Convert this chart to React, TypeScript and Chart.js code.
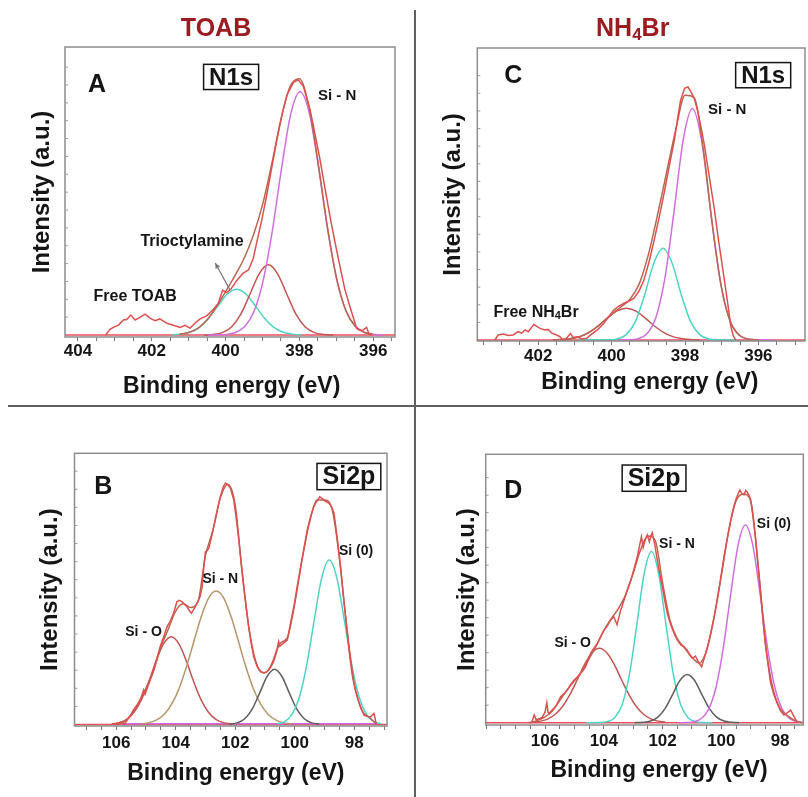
import React, { useEffect, useRef } from 'react';
import { Chart, registerables } from 'chart.js';

Chart.register(...registerables);

const FONT = "'Liberation Sans', Arial, Helvetica, sans-serif";
const INK = '#151515';
const HEAD = '#9a1b20';
const RAW = '#dc5050';
const ENV = '#b8664e';
const BASE = '#e4505c';
const MAG = '#cf6fde';
const CYAN = '#4fd3c6';
const REDC = '#c25656';
const GRAY = '#5e5e5e';
const TAN = '#b69668';

// ---------------- Panel A : TOAB, N1s ----------------
const A_xRange = [395.41, 404.35];
const A_yRange = [-0.78, 112.9];
const A_xTickLabels = [404, 402, 400, 398, 396];
const A_rawE = [403.25, 403.13, 403.04, 402.9, 402.77, 402.68, 402.57, 402.45, 402.32, 402.18,
  402.04, 401.91, 401.78, 401.59, 401.41, 401.23, 401.1, 400.96, 400.83, 400.69,
  400.51, 400.33, 400.2, 400.08, 399.97, 399.86, 399.7, 399.53, 399.38, 399.25,
  399.16, 399.02, 398.89, 398.75, 398.61, 398.47, 398.34, 398.16, 398.03, 397.89,
  397.71, 397.58, 397.44, 397.3, 397.17, 397.03, 396.9, 396.77, 396.63, 396.45,
  396.35, 396.27, 396.18, 396.11, 396.02];
const A_rawI = [0, 2.2, 3.0, 3.9, 5.9, 6.1, 7.8, 5.9, 6.9, 8.2,
  6.5, 5.6, 6.3, 4.6, 3.8, 3.0, 3.8, 2.7, 4.6, 6.3,
  7.5, 10.1, 12.4, 17.6, 16.6, 17.9, 21.3, 24.2, 25.5, 30.0,
  36.0, 45.0, 54.5, 65.5, 76.5, 86.5, 94.0, 99.0, 100.0, 97.4,
  88.2, 79.0, 68.6, 57.0, 46.4, 36.0, 26.8, 18.0, 11.1, 2.6,
  1.8, 2.0, 3.0, 0.3, 0];
const A_envE = [401.25, 401.0, 400.75, 400.5, 400.25, 400.0, 399.75, 399.5, 399.25, 399.0,
  398.75, 398.5, 398.25, 398.0, 397.75, 397.5, 397.25, 397.0, 396.75, 396.5, 396.25, 396.0];
const A_envI = [0.3, 1.0, 2.6, 6.0, 11.0, 17.0, 23.2, 30.0, 39.0, 51.0,
  67.0, 84.5, 97.5, 100.5, 90.2, 68.2, 43.1, 22.6, 9.9, 3.6, 1.1, 0.3];
const A_cyanE = [401.45, 401.2, 400.95, 400.7, 400.45, 400.2, 399.95, 399.7, 399.45, 399.2,
  398.95, 398.7, 398.45, 398.2, 397.95];
const A_cyanI = [0, 0.35, 1.16, 3.11, 6.69, 11.56, 16.06, 17.9, 16.06, 11.56,
  6.69, 3.11, 1.16, 0.35, 0];
const A_redE = [400.59, 400.34, 400.09, 399.84, 399.59, 399.34, 399.09, 398.84, 398.59, 398.34,
  398.09, 397.84, 397.59, 397.34, 397.09];
const A_redI = [0, 0.21, 0.93, 3.14, 8.11, 15.98, 24.0, 27.5, 24.0, 15.98,
  8.11, 3.14, 0.93, 0.21, 0];
const A_magE = [400.48, 400.23, 399.98, 399.73, 399.48, 399.23, 398.98, 398.73, 398.48, 398.23,
  397.98, 397.73, 397.48, 397.23, 396.98, 396.73, 396.48, 396.23, 395.98, 395.73];
const A_magI = [0, 0.04, 0.24, 0.97, 3.29, 9.2, 21.4, 41.1, 65.6, 86.9,
  95.4, 86.9, 65.6, 41.1, 21.4, 9.2, 3.29, 0.97, 0.24, 0];
const A_baseE = [404.35, 395.41];
const A_baseI = [0, 0];

// ---------------- Panel C : NH4Br, N1s ----------------
const C_xRange = [394.73, 403.66];
const C_yRange = [-0.4, 116.0];
const C_xTickLabels = [402, 400, 398, 396];
const C_rawE = [403.18, 403.09, 402.95, 402.82, 402.68, 402.55, 402.45, 402.36, 402.27, 402.12,
  401.95, 401.82, 401.73, 401.63, 401.5, 401.41, 401.32, 401.23, 401.12, 401.05,
  400.94, 400.82, 400.68, 400.57, 400.39, 400.21, 400.07, 399.94, 399.8, 399.66,
  399.52, 399.39, 399.25, 399.12, 398.98, 398.84, 398.7, 398.57, 398.43, 398.29,
  398.2, 398.12, 398.01, 397.92, 397.84, 397.75, 397.66, 397.57, 397.48, 397.35,
  397.21, 397.08, 396.94, 396.84, 396.75, 396.68, 396.62];
const C_rawI = [0, 2.0, 2.4, 1.8, 2.0, 3.3, 2.7, 4.0, 3.3, 6.2,
  4.6, 4.0, 4.2, 2.7, 2.0, 1.3, 0, 0.7, 2.6, 1.0,
  1.3, 0.4, 0.7, 2.0, 4.0, 6.6, 9.5, 11.9, 13.5, 14.6,
  15.5, 16.6, 19.5, 23.8, 31.0, 39.7, 49.0, 58.3, 69.0, 79.4,
  88.0, 95.3, 100.0, 100.5, 98.7, 96.0, 91.4, 85.0, 78.1, 66.0,
  53.0, 39.0, 25.2, 15.0, 5.3, 1.5, 0];
const C_envE = [401.5, 401.25, 401.0, 400.75, 400.5, 400.25, 400.0, 399.75, 399.5, 399.25,
  399.0, 398.75, 398.5, 398.25, 398.0, 397.75, 397.5, 397.25, 397.0, 396.75,
  396.5, 396.25, 396.0];
const C_envI = [0.1, 0.3, 0.8, 2.0, 4.1, 7.0, 10.2, 13.1, 16.2, 22.2,
  33.8, 49.6, 66.7, 83.7, 97.2, 96.3, 75.6, 45.2, 20.3, 6.8,
  1.7, 0.3, 0.05];
const C_cyanE = [400.9, 400.1, 399.85, 399.6, 399.35, 399.1, 398.85, 398.6, 398.35, 398.1,
  397.85, 397.6, 397.35, 397.1, 396.6];
const C_cyanI = [0, 0.06, 0.43, 2.14, 7.39, 17.9, 30.5, 36.4, 30.5, 17.9,
  7.39, 2.14, 0.43, 0.06, 0];
const C_magE = [399.8, 399.55, 399.3, 399.05, 398.8, 398.55, 398.3, 398.05, 397.8, 397.55,
  397.3, 397.05, 396.8, 396.55, 396.3, 396.05, 395.6];
const C_magI = [0, 0.07, 0.45, 2.29, 8.66, 24.4, 51.0, 79.4, 92.0, 79.4,
  51.0, 24.4, 8.66, 2.29, 0.45, 0.07, 0];
const C_redE = [401.6, 401.35, 401.1, 400.85, 400.6, 400.35, 400.1, 399.85, 399.6, 399.35,
  399.1, 398.85, 398.6, 398.35, 398.1, 397.85, 397.6];
const C_redI = [0.05, 0.18, 0.55, 1.44, 3.14, 5.77, 8.9, 11.55, 12.6, 11.55,
  8.9, 5.77, 3.14, 1.44, 0.55, 0.18, 0.05];
const C_baseE = [403.66, 394.73];
const C_baseI = [0, 0];

// ---------------- Panel B : TOAB, Si2p ----------------
const B_xRange = [96.9, 107.4];
const B_yRange = [-0.62, 112.4];
const B_xTickLabels = [106, 104, 102, 100, 98];
const B_rawE = [106.15, 105.95, 105.81, 105.73, 105.64, 105.53, 105.42, 105.3, 105.19, 105.08,
  105.03, 104.9, 104.74, 104.63, 104.52, 104.4, 104.29, 104.18, 104.07, 103.96,
  103.88, 103.79, 103.7, 103.62, 103.52, 103.47, 103.38, 103.28, 103.18, 103.11,
  103.05, 103.0, 102.95, 102.89, 102.8, 102.72, 102.6, 102.5, 102.4, 102.33,
  102.25, 102.16, 102.05, 101.96, 101.88, 101.8, 101.71, 101.63, 101.55, 101.46,
  101.38, 101.26, 101.15, 101.04, 100.93, 100.84, 100.76, 100.67, 100.59, 100.54,
  100.5, 100.4, 100.25, 100.14, 100.03, 99.92, 99.8, 99.69, 99.58, 99.47,
  99.36, 99.26, 99.16, 99.06, 98.96, 98.88, 98.8, 98.74, 98.68, 98.57,
  98.46, 98.35, 98.23, 98.15, 98.06, 97.98, 97.9, 97.78, 97.67, 97.56,
  97.45, 97.34, 97.3, 97.26];
const B_rawI = [0, 0.5, 1.2, 0, 1.6, 3.5, 6.0, 8.0, 10.2, 14.3,
  12.5, 17.0, 22.6, 27.5, 32.3, 36.5, 40.5, 43.0, 46.1, 50.9,
  51.5, 50.9, 49.8, 48.8, 46.8, 46.1, 48.0, 50.2, 53.0, 57.1,
  66.0, 71.6, 71.9, 73.0, 77.5, 82.0, 89.0, 94.4, 98.5, 100.0,
  99.5, 97.9, 93.1, 85.0, 76.5, 67.0, 57.1, 48.5, 40.5, 33.5,
  28.1, 24.0, 21.9, 21.4, 21.9, 23.5, 25.4, 28.5, 31.6, 34.4,
  32.5, 33.5, 35.0, 42.0, 48.8, 57.0, 65.4, 73.0, 80.6, 86.0,
  90.3, 92.5, 94.4, 93.5, 92.4, 92.0, 91.0, 89.5, 87.6, 77.0,
  65.4, 51.5, 37.8, 28.0, 19.8, 15.0, 11.5, 7.0, 3.9, 3.3,
  3.2, 4.6, 2.5, 0];
const B_envE = [106.0, 105.75, 105.5, 105.25, 105.0, 104.75, 104.5, 104.25, 104.0, 103.75,
  103.5, 103.25, 103.0, 102.75, 102.5, 102.25, 102.0, 101.75, 101.5, 101.25,
  101.0, 100.75, 100.5, 100.25, 100.0, 99.75, 99.5, 99.25, 99.0, 98.75,
  98.5, 98.25, 98.0, 97.75, 97.5, 97.25];
const B_envI = [0, 1.0, 4.0, 9.0, 15.0, 22.0, 32.0, 39.5, 47.0, 50.0,
  48.5, 51.0, 70.0, 80.5, 94.0, 99.5, 91.0, 61.0, 37.0, 24.0,
  21.5, 25.0, 33.5, 36.0, 50.0, 68.5, 84.0, 93.0, 93.0, 89.5,
  69.0, 40.0, 17.0, 6.0, 3.0, 0];
const B_sioE = [106.15, 105.9, 105.65, 105.4, 105.15, 104.9, 104.65, 104.4, 104.15, 103.9,
  103.65, 103.4, 103.15, 102.9, 102.65, 102.4, 102.15];
const B_sioI = [0.24, 0.77, 2.14, 5.09, 10.34, 17.9, 26.6, 33.6, 36.4, 33.6,
  26.6, 17.9, 10.34, 5.09, 2.14, 0.77, 0.24];
const B_sinE = [105.14, 104.89, 104.64, 104.39, 104.14, 103.89, 103.64, 103.39, 103.14, 102.89,
  102.64, 102.39, 102.14, 101.89, 101.64, 101.39, 101.14, 100.89, 100.64, 100.39, 100.14];
const B_sinI = [0.28, 0.77, 1.9, 4.18, 8.3, 14.8, 23.8, 34.4, 44.8, 52.5,
  55.3, 52.5, 44.8, 34.4, 23.8, 14.8, 8.3, 4.18, 1.9, 0.77, 0.28];
const B_grayE = [102.18, 101.93, 101.68, 101.43, 101.18, 100.93, 100.68, 100.43, 100.18, 99.93,
  99.68, 99.43, 99.18];
const B_grayI = [0.14, 0.67, 2.38, 6.41, 13.0, 19.9, 22.9, 19.9, 13.0, 6.41,
  2.38, 0.67, 0.14];
const B_si0E = [100.59, 100.34, 100.09, 99.84, 99.59, 99.34, 99.09, 98.84, 98.59, 98.34,
  98.09, 97.84, 97.59, 97.34, 97.09];
const B_si0I = [0.29, 1.24, 4.23, 11.5, 25.1, 43.7, 61.0, 68.2, 61.0, 43.7,
  25.1, 11.5, 4.23, 1.24, 0.29];
const B_flatE = [105.9, 97.2];
const B_flatI = [0.35, 0.35];
const B_baseE = [107.4, 96.9];
const B_baseI = [0, 0];

// ---------------- Panel D : NH4Br, Si2p ----------------
const D_xRange = [97.21, 108.02];
const D_yRange = [-0.99, 115.0];
const D_xTickLabels = [106, 104, 102, 100, 98];
const D_rawE = [106.55, 106.45, 106.37, 106.3, 106.26, 106.17, 106.09, 106.0, 105.94, 105.9,
  105.86, 105.75, 105.64, 105.55, 105.47, 105.35, 105.24, 105.12, 105.01, 104.9,
  104.79, 104.7, 104.62, 104.53, 104.45, 104.33, 104.22, 104.1, 103.99, 103.88,
  103.77, 103.66, 103.55, 103.43, 103.31, 103.2, 103.08, 102.97, 102.86, 102.78,
  102.72, 102.66, 102.6, 102.52, 102.45, 102.4, 102.35, 102.26, 102.18, 102.1,
  102.01, 101.92, 101.84, 101.72, 101.61, 101.5, 101.38, 101.27, 101.16, 101.07,
  100.99, 100.88, 100.78, 100.67, 100.6, 100.53, 100.45, 100.36, 100.25, 100.14,
  100.02, 99.91, 99.8, 99.68, 99.6, 99.51, 99.44, 99.37, 99.3, 99.23,
  99.17, 99.12, 99.06, 99.0, 98.92, 98.83, 98.75, 98.66, 98.58, 98.49,
  98.4, 98.32, 98.21, 98.1, 97.98, 97.87, 97.76, 97.64, 97.52, 97.41];
const D_rawI = [0, 0.3, 3.3, 1.2, 1.5, 1.8, 2.4, 4.5, 8.6, 4.5,
  3.9, 5.5, 6.9, 9.0, 11.1, 12.5, 14.0, 16.5, 18.3, 19.5,
  21.2, 22.5, 24.0, 27.0, 29.7, 32.0, 34.0, 37.0, 39.7, 41.5,
  44.0, 45.4, 42.0, 48.0, 52.6, 57.0, 61.1, 66.0, 71.1, 76.0,
  79.7, 75.0, 78.0, 80.4, 77.5, 80.0, 81.4, 76.0, 69.7, 64.0,
  58.3, 52.0, 46.9, 42.0, 38.3, 35.5, 33.3, 32.5, 31.1, 29.0,
  27.6, 28.5, 26.0, 24.0, 27.0, 29.7, 33.5, 38.3, 45.0, 52.6,
  62.0, 71.1, 79.0, 86.8, 91.5, 95.4, 97.8, 99.7, 98.2, 97.6,
  99.5, 98.9, 97.5, 95.4, 88.0, 78.3, 67.0, 55.4, 44.0, 32.6,
  24.0, 16.9, 12.0, 8.3, 5.0, 3.3, 4.2, 5.4, 2.5, 0];
const D_envE = [106.5, 106.25, 106.0, 105.75, 105.5, 105.25, 105.0, 104.75, 104.5, 104.25,
  104.0, 103.75, 103.5, 103.25, 103.0, 102.75, 102.5, 102.25, 102.0, 101.75,
  101.5, 101.25, 101.0, 100.75, 100.5, 100.25, 100.0, 99.75, 99.5, 99.25,
  99.0, 98.75, 98.5, 98.25, 98.0, 97.75, 97.5, 97.25];
const D_envI = [0, 1.0, 2.5, 5.0, 9.5, 14.0, 18.0, 22.0, 27.5, 33.0,
  39.5, 44.5, 49.0, 55.0, 64.0, 74.0, 80.0, 78.0, 60.0, 44.0,
  36.0, 32.0, 28.0, 25.5, 31.0, 45.0, 63.0, 82.0, 95.0, 98.0,
  95.0, 68.0, 34.0, 15.0, 6.0, 3.0, 1.0, 0];
const D_sioE = [106.4, 106.15, 105.9, 105.65, 105.4, 105.15, 104.9, 104.65, 104.4, 104.15,
  103.9, 103.65, 103.4, 103.15, 102.9, 102.65, 102.4, 102.15, 101.9];
const D_sioI = [0.24, 0.67, 1.66, 3.64, 7.07, 12.15, 18.5, 25.1, 30.0, 31.9,
  30.0, 25.1, 18.5, 12.15, 7.07, 3.64, 1.66, 0.67, 0.24];
const D_sinE = [104.6, 104.13, 103.88, 103.63, 103.38, 103.13, 102.88, 102.63, 102.38, 102.13,
  101.88, 101.63, 101.38, 101.13, 100.88, 100.63, 100.3];
const D_sinI = [0, 0.07, 0.45, 2.13, 7.62, 20.5, 41.6, 63.6, 73.3, 63.6,
  41.6, 20.5, 7.62, 2.13, 0.45, 0.07, 0];
const D_grayE = [102.95, 102.66, 102.41, 102.16, 101.91, 101.66, 101.41, 101.16, 100.91, 100.66,
  100.41, 100.16, 99.91, 99.66, 99.4];
const D_grayI = [0, 0.16, 0.7, 2.36, 6.11, 12.0, 18.1, 20.7, 18.1, 12.0,
  6.11, 2.36, 0.7, 0.16, 0];
const D_si0E = [101.45, 101.18, 100.93, 100.68, 100.43, 100.18, 99.93, 99.68, 99.43, 99.18,
  98.93, 98.68, 98.43, 98.18, 97.93, 97.68, 97.43, 97.18];
const D_si0I = [0, 0.09, 0.44, 1.79, 5.81, 15.2, 32.3, 55.1, 76.1, 84.7,
  76.1, 55.1, 32.3, 15.2, 5.81, 1.79, 0.44, 0.09];
const D_baseE = [108.02, 97.21];
const D_baseI = [0, 0];

// ---------------- annotations (data coordinates) ----------------
const A_labels = [
  { text: 'A', e: 403.48, v: 95.4, size: 25 },
  { text: 'N1s', e: 399.85, v: 98.2, size: 24, box: true },
  { text: 'Si - N', e: 396.98, v: 92.2, size: 15 },
  { text: 'Trioctylamine', e: 400.91, v: 34.9, size: 16 },
  { text: 'Free TOAB', e: 402.45, v: 13.3, size: 16 },
];
const A_arrow = { from: [399.88, 17.6], to: [400.28, 28.2] };
const C_labels = [
  { text: 'C', e: 402.68, v: 102.0, size: 25 },
  { text: 'N1s', e: 395.87, v: 102.2, size: 24, box: true },
  { text: 'Si - N', e: 396.85, v: 89.7, size: 15 },
  { text: 'Free NH_{4}Br', e: 402.06, v: 9.3, size: 16 },
];
const B_labels = [
  { text: 'B', e: 106.43, v: 95.4, size: 25 },
  { text: 'Si2p', e: 98.18, v: 99.5, size: 25, box: true },
  { text: 'Si (0)', e: 97.94, v: 70.3, size: 14 },
  { text: 'Si - N', e: 102.5, v: 58.5, size: 14 },
  { text: 'Si - O', e: 105.08, v: 36.7, size: 14 },
];
const D_labels = [
  { text: 'D', e: 107.08, v: 96.1, size: 25 },
  { text: 'Si2p', e: 102.29, v: 101.4, size: 25, box: true },
  { text: 'Si (0)', e: 98.21, v: 83.3, size: 14 },
  { text: 'Si - N', e: 101.51, v: 74.7, size: 14 },
  { text: 'Si - O', e: 105.06, v: 32.6, size: 14 },
];

const S = (e: number[], i: number[], color: string, smooth = true, width = 1.5) => ({ e, i, color, smooth, width });

const PANELS: any[] = [
  {
    id: 'A', left: 0, top: 0, w: 414, h: 405,
    pad: { l: 27.6, t: 47, r: 19 }, yW: 37.4, xH: 68, tickPad: 0.3,
    xRange: A_xRange, yRange: A_yRange, yStep: 7, tickLabels: A_xTickLabels,
    xTitle: { x: 231.7, base: 393.2 }, header: { text: 'TOAB', x: 216, base: 36 },
    series: [S(A_rawE, A_rawI, RAW, false), S(A_envE, A_envI, ENV), S(A_magE, A_magI, MAG),
      S(A_redE, A_redI, REDC), S(A_cyanE, A_cyanI, CYAN), S(A_baseE, A_baseI, BASE, false)],
    labels: A_labels, arrow: A_arrow,
  },
  {
    id: 'C', left: 416, top: 0, w: 392, h: 405,
    pad: { l: 22.6, t: 48, r: 3 }, yW: 38.7, xH: 64, tickPad: 0.8,
    xRange: C_xRange, yRange: C_yRange, yStep: 7, tickLabels: C_xTickLabels,
    xTitle: { x: 233.8, base: 389.3 }, header: { text: 'NH_{4}Br', x: 216.7, base: 36 },
    series: [S(C_rawE, C_rawI, RAW, false), S(C_envE, C_envI, ENV), S(C_magE, C_magI, MAG),
      S(C_cyanE, C_cyanI, CYAN), S(C_redE, C_redI, REDC), S(C_baseE, C_baseI, BASE, false)],
    labels: C_labels,
  },
  {
    id: 'B', left: 0, top: 407, w: 414, h: 390,
    pad: { l: 35.6, t: 46.3, r: 27 }, yW: 38.9, xH: 71, tickPad: 2.8,
    xRange: B_xRange, yRange: B_yRange, yStep: 7.5, tickLabels: B_xTickLabels,
    xTitle: { x: 235.8, base: 373 },
    series: [S(B_rawE, B_rawI, RAW, false), S(B_envE, B_envI, ENV), S(B_si0E, B_si0I, CYAN),
      S(B_grayE, B_grayI, GRAY), S(B_sinE, B_sinI, TAN), S(B_sioE, B_sioI, REDC),
      S(B_flatE, B_flatI, MAG, false), S(B_baseE, B_baseI, BASE, false)],
    labels: B_labels,
  },
  {
    id: 'D', left: 416, top: 407, w: 392, h: 390,
    pad: { l: 36.6, t: 47.3, r: 4.7 }, yW: 33.1, xH: 72, tickPad: 1.8,
    xRange: D_xRange, yRange: D_yRange, yStep: 7.5, tickLabels: D_xTickLabels,
    xTitle: { x: 243, base: 369.7 },
    series: [S(D_rawE, D_rawI, RAW, false), S(D_envE, D_envI, ENV), S(D_si0E, D_si0I, MAG),
      S(D_grayE, D_grayI, GRAY), S(D_sinE, D_sinI, CYAN), S(D_sioE, D_sioI, REDC),
      S(D_baseE, D_baseI, BASE, false)],
    labels: D_labels,
  },
];

function drawRich(ctx: CanvasRenderingContext2D, text: string, cx: number, base: number, size: number, color: string) {
  const parts = text.split(/_\{(.*?)\}/);
  const fonts = parts.map((_, k) => `bold ${k % 2 ? Math.round(size * 0.66) : size}px ${FONT}`);
  let total = 0;
  const widths = parts.map((p, k) => {
    ctx.font = fonts[k];
    const m = ctx.measureText(p).width;
    total += m;
    return m;
  });
  let x = cx - total / 2;
  ctx.textAlign = 'left';
  ctx.textBaseline = 'alphabetic';
  ctx.fillStyle = color;
  parts.forEach((p, k) => {
    ctx.font = fonts[k];
    ctx.fillText(p, x, base + (k % 2 ? size * 0.16 : 0));
    x += widths[k];
  });
  return total;
}

function makeDecor(cfg: any) {
  return {
    id: 'decor' + cfg.id,
    afterDatasetsDraw(chart: any) {
      const { ctx, chartArea: a } = chart;
      const xs = chart.scales.x;
      const ys = chart.scales.y;
      ctx.save();
      ctx.strokeStyle = '#8d8d8d';
      ctx.lineWidth = 1.5;
      ctx.strokeRect(a.left, a.top, a.right - a.left, a.bottom - a.top);
      ctx.strokeStyle = '#999';
      ctx.lineWidth = 1;
      for (const t of ys.ticks) {
        const py = ys.getPixelForValue(t.value);
        if (py < a.top + 3 || py > a.bottom - 3) continue;
        ctx.beginPath();
        ctx.moveTo(a.left, py);
        ctx.lineTo(a.left + 3, py);
        ctx.stroke();
      }
      if (cfg.arrow) {
        const x0 = xs.getPixelForValue(cfg.arrow.from[0]);
        const y0 = ys.getPixelForValue(cfg.arrow.from[1]);
        const x1 = xs.getPixelForValue(cfg.arrow.to[0]);
        const y1 = ys.getPixelForValue(cfg.arrow.to[1]);
        const ang = Math.atan2(y1 - y0, x1 - x0);
        ctx.strokeStyle = '#777';
        ctx.fillStyle = '#777';
        ctx.lineWidth = 1.2;
        ctx.beginPath();
        ctx.moveTo(x0, y0);
        ctx.lineTo(x1, y1);
        ctx.stroke();
        ctx.beginPath();
        ctx.moveTo(x1, y1);
        ctx.lineTo(x1 - 6 * Math.cos(ang - 0.45), y1 - 6 * Math.sin(ang - 0.45));
        ctx.lineTo(x1 - 6 * Math.cos(ang + 0.45), y1 - 6 * Math.sin(ang + 0.45));
        ctx.closePath();
        ctx.fill();
      }
      for (const lb of cfg.labels) {
        const cx = xs.getPixelForValue(lb.e);
        const base = ys.getPixelForValue(lb.v);
        const w = drawRich(ctx, lb.text, cx, base, lb.size, INK);
        if (lb.box) {
          ctx.strokeStyle = INK;
          ctx.lineWidth = 1.5;
          ctx.strokeRect(cx - w / 2 - 5.5, base - lb.size * 0.84, w + 11, lb.size * 1.05);
        }
      }
      drawRich(ctx, 'Binding energy (eV)', cfg.xTitle.x, cfg.xTitle.base, 23, INK);
      if (cfg.header) drawRich(ctx, cfg.header.text, cfg.header.x, cfg.header.base, 25, HEAD);
      ctx.restore();
    },
  };
}

function Panel({ cfg }: { cfg: any }) {
  const ref = useRef<HTMLCanvasElement>(null);
  useEffect(() => {
    const canvas = ref.current;
    if (!canvas) return;
    const [xmin, xmax] = cfg.xRange;
    const minor: number[] = [];
    for (let v = Math.ceil(xmin * 2) / 2; v <= xmax + 1e-9; v += 0.5) minor.push(Math.round(v * 10) / 10);
    const chart = new Chart(canvas, {
      type: 'line',
      data: {
        datasets: cfg.series.map((s: any) => ({
          data: s.e.map((x: number, k: number) => ({ x, y: s.i[k] })),
          borderColor: s.color,
          borderWidth: s.width,
          pointRadius: 0,
          fill: false,
          tension: s.smooth ? 0.4 : 0,
          cubicInterpolationMode: s.smooth ? 'monotone' : 'default',
        })),
      },
      options: {
        animation: false,
        responsive: false,
        maintainAspectRatio: false,
        devicePixelRatio: 1,
        events: [],
        layout: { padding: { left: cfg.pad.l, top: cfg.pad.t, right: cfg.pad.r, bottom: 0 } },
        plugins: { legend: { display: false }, tooltip: { enabled: false }, title: { display: false } },
        scales: {
          x: {
            type: 'linear',
            reverse: true,
            min: xmin,
            max: xmax,
            afterBuildTicks: (scale: any) => {
              scale.ticks = minor.map((v) => ({ value: v }));
            },
            afterFit: (scale: any) => {
              scale.height = cfg.xH;
            },
            ticks: {
              autoSkip: false,
              maxRotation: 0,
              minRotation: 0,
              padding: cfg.tickPad,
              color: INK,
              font: { family: FONT, size: 17, weight: 'bold' },
              callback: (value: any) => {
                const r = Math.round(Number(value) * 100) / 100;
                return cfg.tickLabels.includes(r) ? String(r) : '';
              },
            },
            grid: { display: true, drawOnChartArea: false, drawTicks: true, tickLength: 4, color: '#777', lineWidth: 1 },
            border: { display: false },
            title: { display: false },
          },
          y: {
            type: 'linear',
            min: cfg.yRange[0],
            max: cfg.yRange[1],
            afterFit: (scale: any) => {
              scale.width = cfg.yW;
            },
            ticks: { display: false, stepSize: cfg.yStep },
            grid: { display: false },
            border: { display: false },
            title: {
              display: true,
              text: 'Intensity (a.u.)',
              color: INK,
              padding: 0,
              font: { family: FONT, size: 24, weight: 'bold' },
            },
          },
        },
      } as any,
      plugins: [makeDecor(cfg)],
    } as any);
    return () => chart.destroy();
  }, [cfg]);
  return (
    <canvas
      ref={ref}
      width={cfg.w}
      height={cfg.h}
      style={{ position: 'absolute', left: cfg.left, top: cfg.top, width: cfg.w, height: cfg.h }}
    />
  );
}

export default function App() {
  return (
    <div style={{ position: 'fixed', left: 0, top: 0, width: 808, height: 797, background: '#fff', overflow: 'hidden' }}>
      {PANELS.map((p) => (
        <Panel key={p.id} cfg={p} />
      ))}
      <div style={{ position: 'absolute', left: 414, top: 10, width: 2, height: 787, background: '#5f5f5f' }} />
      <div style={{ position: 'absolute', left: 8, top: 405, width: 800, height: 2, background: '#5f5f5f' }} />
    </div>
  );
}
